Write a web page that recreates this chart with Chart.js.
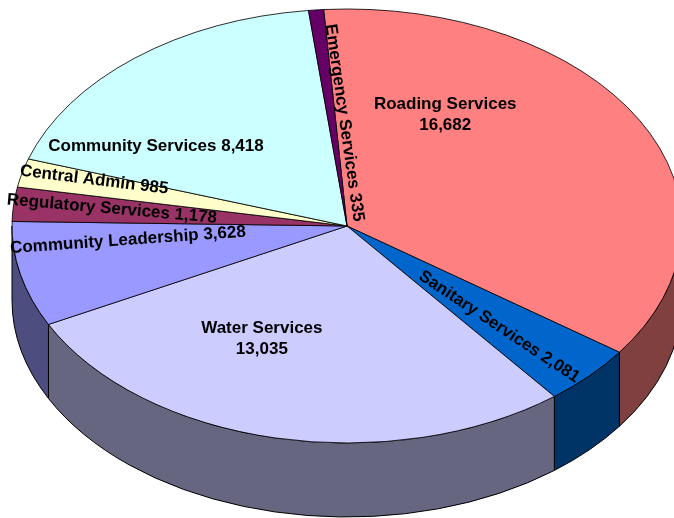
<!DOCTYPE html>
<html>
<head>
<meta charset="utf-8">
<script src="https://cdn.jsdelivr.net/npm/chart.js@4"></script>
<style>
  html, body { margin: 0; padding: 0; background: #fff; overflow: hidden; }
  #wrap { position: relative; width: 674px; height: 518px; overflow: hidden; }
  #chart { position: absolute; left: 0; top: 0; }
</style>
</head>
<body>
<div id="wrap"><canvas id="chart" width="690" height="670"></canvas></div>
<script>
// Data
const categories = ['Roading Services', 'Sanitary Services', 'Water Services', 'Community Leadership',
    'Regulatory Services', 'Central Admin', 'Community Services', 'Emergency Services'];
const values = [16682, 2081, 13035, 3628, 1178, 985, 8418, 335];

// Colours: top face and darker side wall
const topColors = ['#FF8080', '#0066CC', '#CCCCFF', '#9999FF', '#993366', '#FFFFCC', '#CCFFFF', '#660066'];
const sideColors = ['#804040', '#003366', '#666680', '#4D4D80', '#4D1A33', '#808066', '#668080', '#330033'];

// Label placement: angle nudge from slice middle (deg), radius fraction,
// text rotation (deg, null = along the slice), sideways shift (px)
const labelLayout = [
    { dA: -31, r: 0.59, rot: 0, off: 0, twoLine: true },
    { dA: 2, r: 0.65, rot: null, off: 0 },
    { dA: 13.6, r: 0.58, rot: 0, off: 0, twoLine: true },
    { dA: 7.2, r: 0.657, rot: -4, off: 0 },
    { dA: 0.6, r: 0.706, rot: 5, off: 0 },
    { dA: 1.5, r: 0.784, rot: 7, off: 0 },
    { dA: -17.8, r: 0.679, rot: 0, off: 0 },
    { dA: 0, r: 0.47, rot: null, off: -12 }
];

const TOP_Y = 226;      // screen y of pie centre
const FLAT = 217 / 335; // vertical squash of the top face
const DEPTH = 74;       // thickness of the pie
const FONT = 'bold 17px "Liberation Sans", Arial, sans-serif';

const fmt = v => v.toLocaleString('en-US');

const pie3d = {
    id: 'pie3d',
    beforeDatasetsDraw(chart) {
        const ctx = chart.ctx;
        const arcs = chart.getDatasetMeta(0).data;
        const { x: cx, y: cy, outerRadius: r } = arcs[0].getProps(['x', 'y', 'outerRadius']);

        // side walls, only the front half (0..PI) is visible
        ctx.save();
        ctx.lineWidth = 1;
        ctx.strokeStyle = '#000';
        ctx.lineJoin = 'bevel';
        arcs.forEach((arc, i) => {
            const p = arc.getProps(['startAngle', 'endAngle']);
            [-2, 0, 2].forEach(k => {
                const a1 = Math.max(p.startAngle + k * Math.PI, 0);
                const a2 = Math.min(p.endAngle + k * Math.PI, Math.PI);
                if (a2 <= a1) return;
                ctx.beginPath();
                ctx.ellipse(cx, TOP_Y, r, r * FLAT, 0, a1, a2);
                ctx.ellipse(cx, TOP_Y + DEPTH, r, r * FLAT, 0, a2, a1, true);
                ctx.closePath();
                ctx.fillStyle = sideColors[i];
                ctx.fill();
                ctx.stroke();
            });
        });
        ctx.restore();

        // squash the top face drawn by Chart.js
        ctx.save();
        ctx.translate(0, TOP_Y);
        ctx.scale(1, FLAT);
        ctx.translate(0, -cy);
    },
    afterDatasetsDraw(chart) {
        const ctx = chart.ctx;
        ctx.restore();

        const arcs = chart.getDatasetMeta(0).data;
        ctx.save();
        ctx.font = FONT;
        ctx.fillStyle = '#000';
        ctx.textAlign = 'center';
        ctx.textBaseline = 'middle';
        arcs.forEach((arc, i) => {
            const p = arc.getProps(['x', 'startAngle', 'endAngle', 'outerRadius']);
            const L = labelLayout[i];
            const a = (p.startAngle + p.endAngle) / 2 + L.dA * Math.PI / 180;
            const rx = p.outerRadius, ry = p.outerRadius * FLAT;
            const x = p.x + rx * L.r * Math.cos(a);
            const y = TOP_Y + ry * L.r * Math.sin(a);
            let rot;
            if (L.rot === null) {
                rot = Math.atan2(ry * Math.sin(a), rx * Math.cos(a));
                if (Math.cos(rot) < 0) rot += Math.PI;
            } else {
                rot = L.rot * Math.PI / 180;
            }
            ctx.save();
            ctx.translate(x, y);
            ctx.rotate(rot);
            ctx.translate(0, L.off);
            if (L.twoLine) {
                ctx.fillText(categories[i], 0, -10.5);
                ctx.fillText(fmt(values[i]), 0, 10.5);
            } else {
                ctx.fillText(categories[i] + ' ' + fmt(values[i]), 0, 0);
            }
            ctx.restore();
        });
        ctx.restore();
    }
};

new Chart(document.getElementById('chart').getContext('2d'), {
    type: 'pie',
    data: {
        labels: categories,
        datasets: [{
            data: values,
            backgroundColor: topColors,
            borderColor: '#000',
            borderWidth: 1,
            borderJoinStyle: 'bevel'
        }]
    },
    options: {
        responsive: false,
        animation: false,
        devicePixelRatio: 1,
        rotation: -4,
        radius: 335,
        layout: { padding: { left: 12, right: 8, top: 0, bottom: 0 } },
        plugins: {
            legend: { display: false },
            tooltip: { enabled: false }
        }
    },
    plugins: [pie3d]
});
</script>
</body>
</html>
